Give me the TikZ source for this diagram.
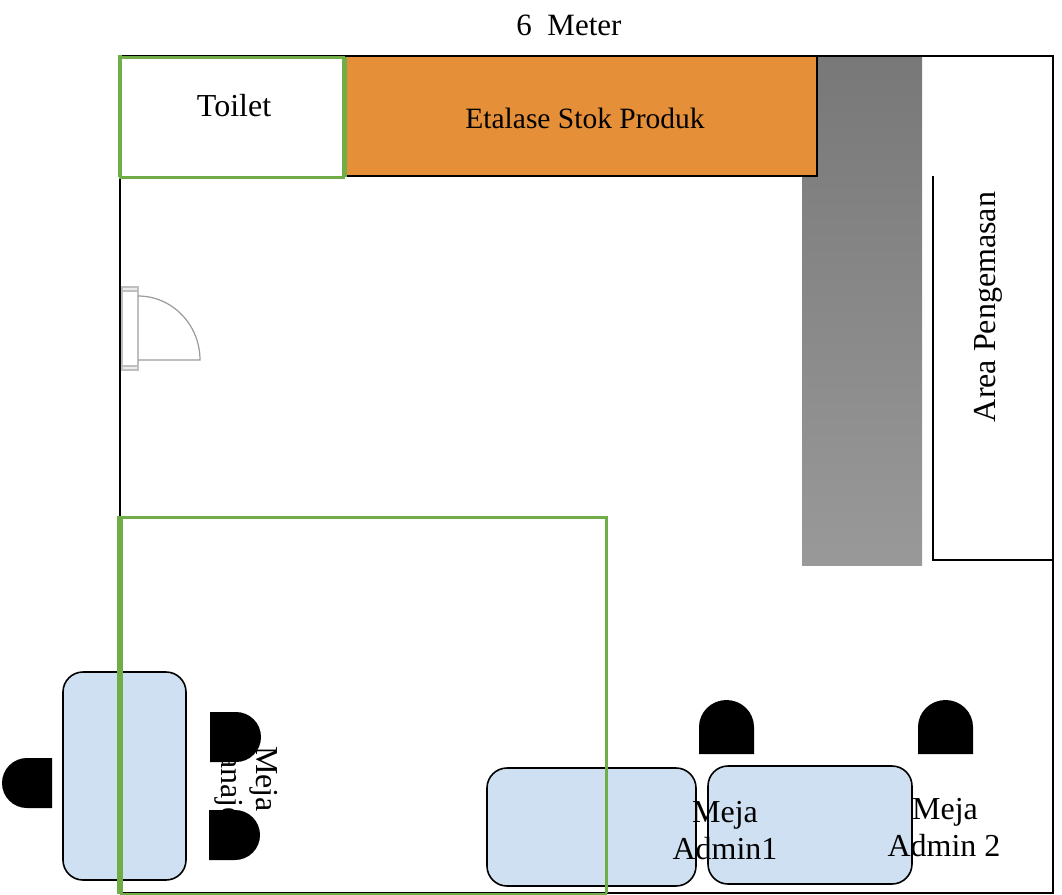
\documentclass[tikz,border=0pt]{standalone}
\usepackage{fontspec}
\setmainfont{Liberation Serif}
\definecolor{leaf}{HTML}{70AD47}
\definecolor{amber}{HTML}{E59038}
\definecolor{pale}{HTML}{CFE0F3}
\definecolor{doorgray}{HTML}{9A9A9A}
\tikzset{
  x=1pt,y=-1pt,
  wall/.style={draw=black,line width=2pt},
  desk/.style={draw=black,line width=1.6pt,fill=pale,rounded corners=20pt},
  seat/.style={fill=black,draw=none},
  doorline/.style={draw=doorgray,line width=1.2pt},
  label/.style={inner sep=0pt,font=\fontsize{#1}{#1}\selectfont},
  label/.default=32
}
\begin{document}
\begin{tikzpicture}
\useasboundingbox (0,0) rectangle (1062,894);
% gray passage
\path[top color=black!53,bottom color=black!40,draw=none] (802,56) rectangle (922,565);
% packing area
\draw[wall,line width=1.5pt] (933,176) -- (933,560) -- (1053,560);
% outer walls
\draw[wall] (120,892.5) -- (120,56) -- (1053,56) -- (1053,892.5) -- cycle;
% display
\draw[wall,fill=amber] (343,56) rectangle (817,176);
% desks
\draw[desk] (63,672) rectangle (186,880);
\draw[desk] (487,768) rectangle (696,886);
\draw[desk] (708,766) rectangle (912,884);
% rooms
\draw[leaf,line width=3pt] (120,57) rectangle (343,177);
\draw[leaf,line width=4.5pt] (345,57) -- (345,177);
\draw[leaf,line width=4pt] (120,55) -- (120,177);
\draw[leaf,line width=2.5pt] (120,517.5) -- (606.5,517.5) -- (606.5,893);
\draw[leaf,line width=2pt] (120,893.5) -- (606.5,893.5);
\draw[leaf,line width=6pt] (120,516) -- (120,894);
% door
\draw[doorline,draw=black!25,fill=white] (122,291) rectangle (138,366);
\draw[doorline,draw=black!25,fill=black!8] (122,287) rectangle (138,291);
\draw[doorline,draw=black!25,fill=black!8] (122,366) rectangle (138,370);
\draw[doorline] (138,296) arc[start angle=90,end angle=0,x radius=62,y radius=-64] -- (138,360);
% texts
\node[label=31] (dim) at (569,25) {6\ \ Meter};
\node[label=32] (toilet) at (234,106) {Toilet};
\node[label=29.5] (etalase) at (585,118) {Etalase Stok Produk};
\node[label=32,rotate=90] (packing) at (988,307) {Area Pengemasan};
\node[label=32,rotate=-90] (meja3) at (264,779) {Meja};
\node[label=32,rotate=-90] (manajer) at (229,779) {Manajer};
% seats
\fill[seat] (210,712) -- (236,712) arc[start angle=90,end angle=-90,x radius=25,y radius=-25] -- (210,762) -- cycle;
\fill[seat] (209,810) -- (235,810) arc[start angle=90,end angle=-90,x radius=25,y radius=-25] -- (209,860) -- cycle;
\fill[seat] (52,758) -- (27,758) arc[start angle=90,end angle=270,x radius=25,y radius=-25] -- (52,808) -- cycle;
\fill[seat] (699,754) -- (699,727) arc[start angle=180,end angle=0,x radius=27.5,y radius=-27] -- (754,754) -- cycle;
\fill[seat] (918,754) -- (918,727) arc[start angle=180,end angle=0,x radius=27.5,y radius=-27] -- (973,754) -- cycle;
% desk labels
\node[label=32] (meja1) at (725,815) {Meja};
\node[label=32] (admin1) at (725,849) {Admin1};
\node[label=32] (meja2) at (945,812) {Meja};
\node[label=32] (admin2) at (944,846) {Admin 2};
\end{tikzpicture}
\end{document}
